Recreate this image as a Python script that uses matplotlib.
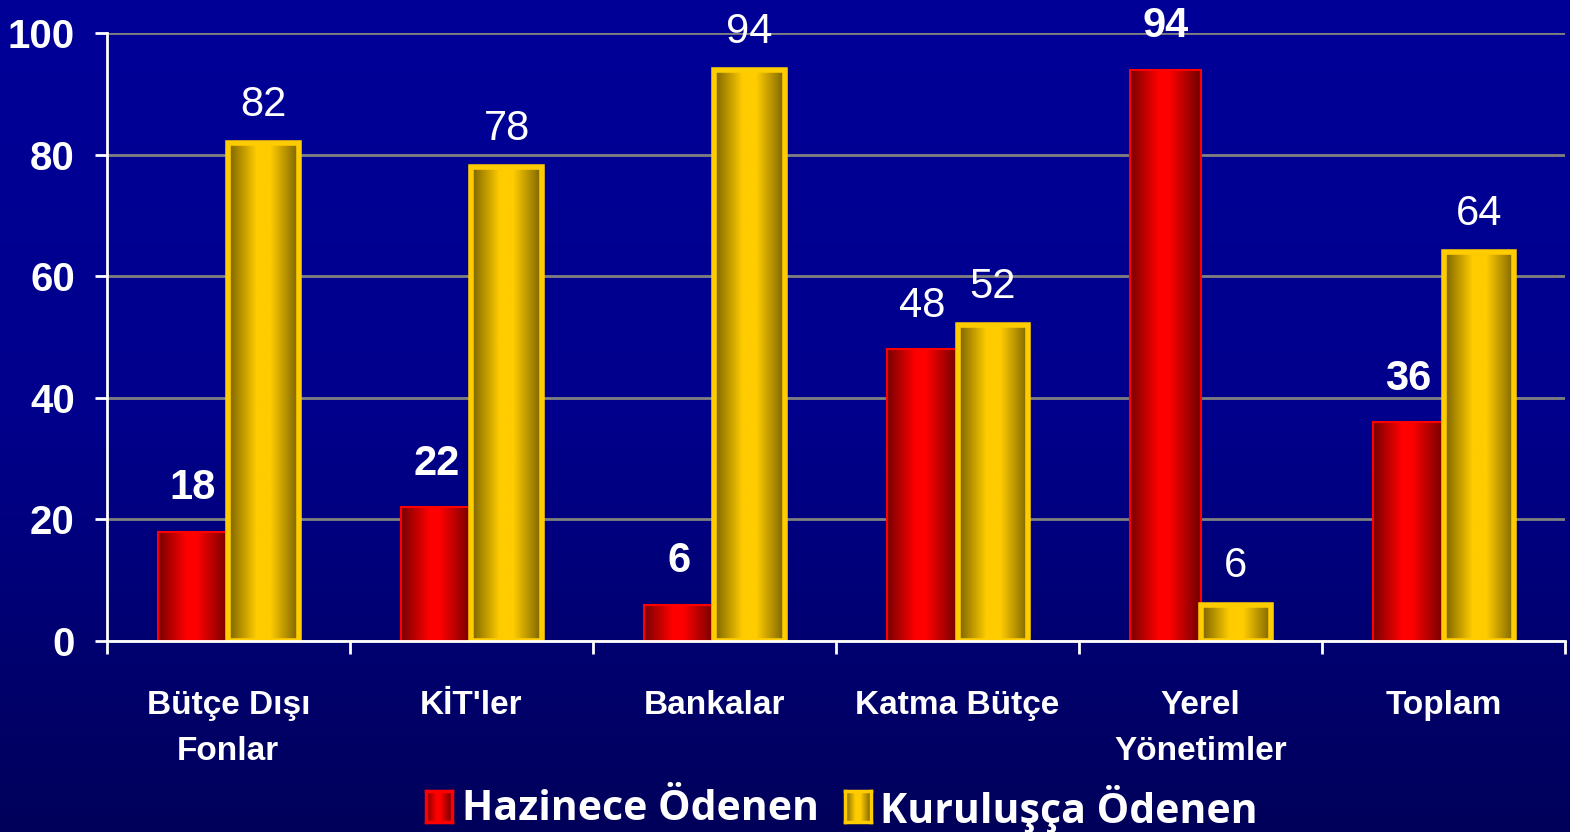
import numpy as np
import matplotlib
matplotlib.use('Agg')
import matplotlib.pyplot as plt
from matplotlib.colors import LinearSegmentedColormap

categories = ['Bütçe Dışı\nFonlar', "KİT'ler", 'Bankalar', 'Katma Bütçe', 'Yerel\nYönetimler', 'Toplam']
hazinece = [18, 22, 6, 48, 94, 36]
kurulusca = [82, 78, 94, 52, 6, 64]
hazinece_bold = [True, True, True, False, True, True]
series_names = ['Hazinece Ödenen', 'Kuruluşça Ödenen']
yticks = [0, 20, 40, 60, 80, 100]

plt.rcParams['font.family'] = ['Liberation Sans', 'DejaVu Sans']

fig = plt.figure(figsize=(15.7, 8.32), dpi=100)

# background gradient (top blue -> darker bottom)
bg = fig.add_axes([0, 0, 1, 1], zorder=-10)
grad = np.linspace(0, 1, 256).reshape(-1, 1)
bg_cmap = LinearSegmentedColormap.from_list('bg', ['#000098', '#00008c', '#00005a'])
bg.imshow(grad, aspect='auto', cmap=bg_cmap, extent=[0, 1, 0, 1], origin='upper')
bg.set_axis_off()

ax = fig.add_axes([0.068, 0.2296, 0.929, 0.7304])
ax.patch.set_alpha(0)

red_cmap = LinearSegmentedColormap.from_list('r', [(0, '#780000'), (0.4, '#ff0000'), (0.55, '#ff0000'), (1, '#700000')])
yel_cmap = LinearSegmentedColormap.from_list('y', [(0, '#7a6200'), (0.4, '#ffcc00'), (0.6, '#ffcc00'), (1, '#7a6200')])
hgrad = np.linspace(0, 1, 128).reshape(1, -1)

x = np.arange(len(categories))
w = 0.29
bars_r = ax.bar(x - w / 2, hazinece, w, facecolor='none', edgecolor='#ff0000', linewidth=1.5, zorder=4)
bars_y = ax.bar(x + w / 2, kurulusca, w, facecolor='none', edgecolor='#ffcc00', linewidth=4, zorder=4)

for bars, cmap in [(bars_r, red_cmap), (bars_y, yel_cmap)]:
    for b in bars:
        ax.imshow(hgrad, aspect='auto', cmap=cmap, zorder=3,
                  extent=[b.get_x(), b.get_x() + b.get_width(), 0, b.get_height()])

for i, b in enumerate(bars_r):
    ax.annotate(str(hazinece[i]), (b.get_x() + b.get_width() / 2, b.get_height()),
                xytext=(0, 17), textcoords='offset points', ha='center', va='bottom',
                color='white', fontsize=30, fontweight='bold' if hazinece_bold[i] else 'normal')
for i, b in enumerate(bars_y):
    ax.annotate(str(kurulusca[i]), (b.get_x() + b.get_width() / 2, b.get_height()),
                xytext=(0, 13), textcoords='offset points', ha='center', va='bottom',
                color='white', fontsize=30)

ax.set_xlim(-0.5, len(categories) - 0.5)
ax.set_ylim(0, 100)
ax.set_yticks(yticks)
ax.set_yticklabels([str(v) for v in yticks], fontsize=29, fontweight='bold', color='white')
ax.yaxis.grid(True, color='#808080', linewidth=2, zorder=0)
ax.set_axisbelow(True)

ax.set_xticks(x)
ax.set_xticklabels(categories, fontsize=24, fontweight='bold', color='white', linespacing=1.65)
ax.set_xticks(np.arange(len(categories) + 1) - 0.5, minor=True)
ax.tick_params(axis='x', which='major', length=0, pad=35)
ax.tick_params(axis='x', which='minor', length=9, width=2, color='white', direction='out')
ax.tick_params(axis='y', length=9, width=2, color='white', pad=14)

for side in ['top', 'right']:
    ax.spines[side].set_visible(False)
for side in ['left', 'bottom']:
    ax.spines[side].set_color('white')
    ax.spines[side].set_linewidth(2)
    ax.spines[side].set_zorder(5)

# legend drawn below the chart
legend_font = ['Open Sans', 'DejaVu Sans']
sw_w, sw_h = 26 / 1570, 31 / 832
for sx, tx, cmap, ec, name in [(426 / 1570, 462 / 1570, red_cmap, '#ff0000', series_names[0]),
                               (845 / 1570, 880 / 1570, yel_cmap, '#ffcc00', series_names[1])]:
    sw = fig.add_axes([sx, 1 - 822 / 832, sw_w, sw_h])
    sw.imshow(hgrad, aspect='auto', cmap=cmap)
    sw.set_xticks([])
    sw.set_yticks([])
    for s in sw.spines.values():
        s.set_color(ec)
        s.set_linewidth(2.5)
    fig.text(tx, 1 - 809 / 832, name, fontsize=29.5, fontweight='bold', color='white',
             va='center', ha='left', family=legend_font)

fig.savefig('out.png', dpi=100)
